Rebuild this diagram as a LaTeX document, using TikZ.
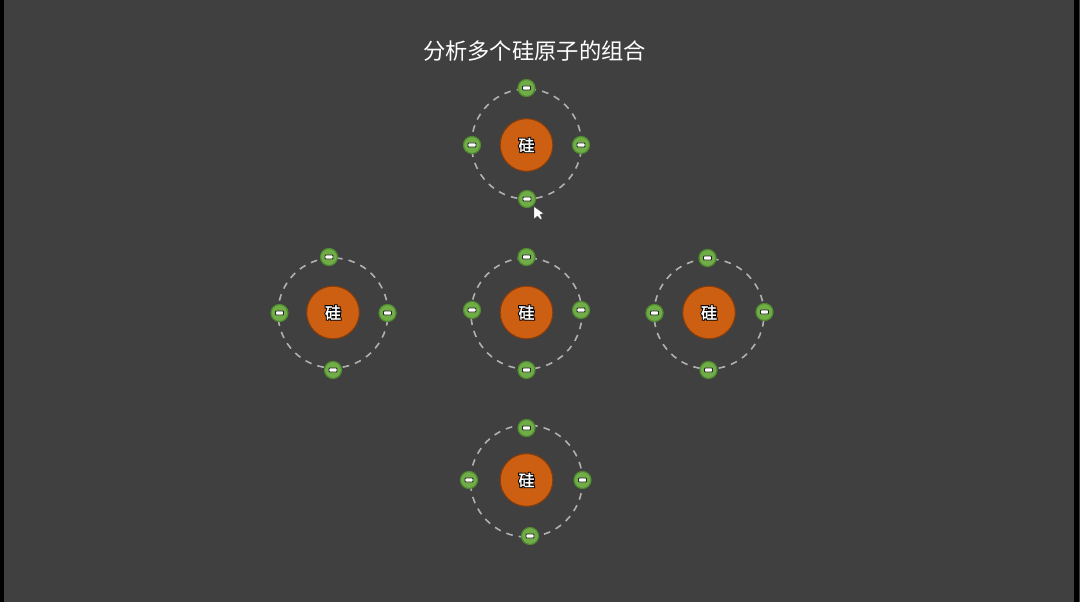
\documentclass[tikz,border=0pt]{standalone}
\usepackage{fontspec}
\newfontfamily\cjk{Noto Sans CJK SC}
\newfontfamily\cjkb{Noto Sans CJK SC}[FakeBold=2]
\definecolor{bg}{HTML}{404040}
\definecolor{nucfill}{HTML}{CC5F12}
\definecolor{nucline}{HTML}{843C0C}
\definecolor{efill}{HTML}{70AD47}
\definecolor{eline}{HTML}{4F8A30}
\definecolor{orbitc}{HTML}{B0B0B0}
\newcommand{\outlined}[1]{\rlap{\special{pdf:code q 1 Tr 1.7 w 0 0 0 RG}{\cjk #1}\special{pdf:code Q}}#1}
\tikzset{
  title/.style={text=white,font=\cjk\fontsize{16.7}{20}\selectfont,inner sep=0pt},
  orbit/.style={draw=orbitc,line width=1.2pt,dash pattern=on 5pt off 4.6pt,fill=none},
  nucleus/.style={circle,draw=nucline,line width=0.75pt,fill=nucfill,minimum size=39.5pt,inner sep=0pt,text=white,font=\cjkb\fontsize{12}{14}\selectfont},
  electron/.style={circle,draw=eline,line width=0.9pt,fill=efill,minimum size=12.8pt,inner sep=0pt},
  bar/.style={rectangle,rounded corners=0.6pt,draw=black!85,line width=0.7pt,fill=white,minimum width=6pt,minimum height=3pt,inner sep=0pt},
}
\begin{document}
\begin{tikzpicture}[x=0.75pt,y=-0.75pt]
\useasboundingbox (0,0) rectangle (1080,602);
\fill[bg] (0,0) rectangle (1080,602);
\fill[black] (0,0) rectangle (4,602);
\fill[black] (1074,0) rectangle (1079,602);
\node[title] (head) at (534.5,51) {分析多个硅原子的组合};
% name / nucleus x,y / orbit x,y,r / four electrons
\foreach \n/\cx/\cy/\ox/\oy/\r/\ax/\ay/\bx/\by/\dx/\dy/\ex/\ey in {
  t/526.5/145/526.5/144/55/526.5/88/472/145/581/145/527/199,
  l/333/312.5/333/313/55/329/257/279.5/313/387.5/313/333/370,
  c/526.5/312.5/526.5/313.5/55.5/526.5/257/472/310/581/310/526.5/370,
  r/709/312.5/709/314/55/707.5/258/654.5/313/764.5/312/708.5/370,
  b/526.5/480/526.5/481/56/526.5/428/469/480/582.5/480/530/536}{
  \node[circle,orbit,minimum size=\r*1.5pt,inner sep=0pt] (orbit\n) at (\ox,\oy) {};
  \node[nucleus] (nuc\n) at (\cx,\cy) {\outlined{硅}};
  \node[electron] (e\n1) at (\ax,\ay) {};
  \node[electron] (e\n2) at (\bx,\by) {};
  \node[electron] (e\n3) at (\dx,\dy) {};
  \node[electron] (e\n4) at (\ex,\ey) {};
  \foreach \k in {1,2,3,4}{\node[bar] at (e\n\k.center) {};}
}
\fill[white,draw=black!70,line width=0.25pt] (534,206.5) -- (534,219) -- (537.5,216) -- (540.5,219.5) -- (542,218.5) -- (540,214.5) -- (543.5,213.5) -- cycle;
\end{tikzpicture}
\end{document}
